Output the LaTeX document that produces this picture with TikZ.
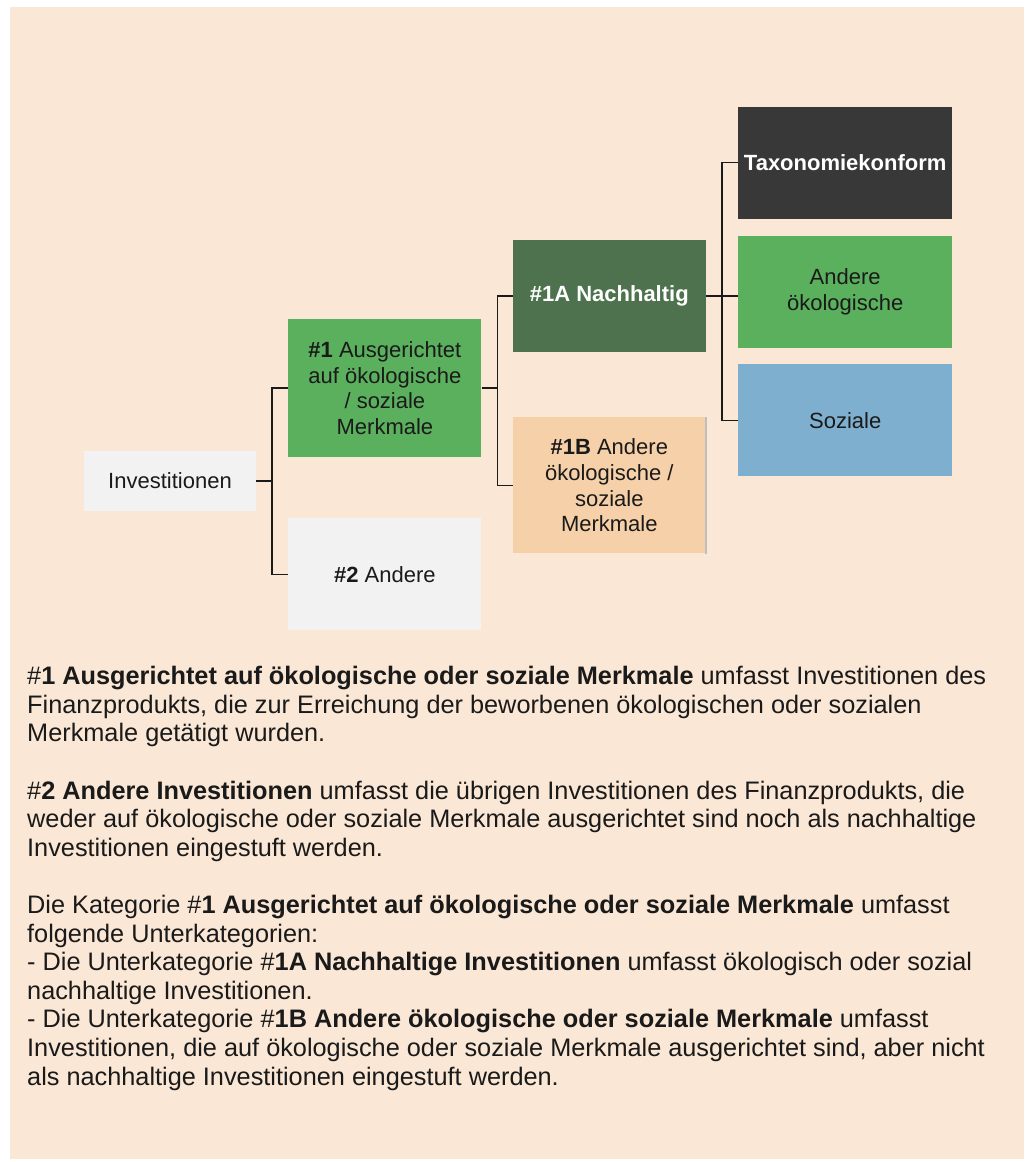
\documentclass[tikz,border=0pt]{standalone}
\usepackage{fontspec}
\setmainfont{Liberation Sans}
\usepackage{xcolor}
\usepackage{tikz}
\usetikzlibrary{positioning}

\definecolor{pagebg}{HTML}{FAE7D5}
\definecolor{greybox}{HTML}{F2F2F2}
\definecolor{greenbox}{HTML}{5BB05E}
\definecolor{darkgreen}{HTML}{4D724D}
\definecolor{darkbox}{HTML}{383838}
\definecolor{bluebox}{HTML}{7FAFCE}
\definecolor{peachbox}{HTML}{F6D0A9}
\definecolor{inkcol}{HTML}{1A1A1A}

\begin{document}
\begin{tikzpicture}[
    x=1pt, y=1pt,
    box/.style={rectangle, minimum width=193pt, minimum height=112pt, inner sep=4pt, align=center, text=inkcol, font=\fontsize{22}{25.7}\selectfont},
    link/.style={line width=1.7pt, draw=inkcol}
]

\useasboundingbox (0,0) rectangle (1026,-1162);
\fill[pagebg] (10,-7) rectangle (1024,-1159);

% Nodes
\node (inv) [box, fill=greybox, minimum width=172pt, minimum height=60pt] at (170,-481) {Investitionen};

\node (aligned) [box, fill=greenbox, minimum height=138pt, right=32pt of inv, yshift=93pt] {\textbf{\#1} Ausgerichtet\\auf ökologische\\/ soziale\\Merkmale};
\node (other) [box, fill=greybox, below=61pt of aligned] {\textbf{\#2} Andere};

\node (sust) [box, fill=darkgreen, text=white, right=31pt of aligned, yshift=92pt] {\textbf{\#1A Nachhaltig}};
\node (otherchar) [box, fill=peachbox, minimum height=136pt, below=65pt of sust] {\textbf{\#1B} Andere\\ökologische /\\soziale\\Merkmale};

\node (otheco) [box, fill=greenbox, minimum width=214pt, right=32pt of sust, yshift=4pt] {Andere\\ökologische};
\node (taxo) [box, fill=darkbox, text=white, minimum width=214pt, above=17pt of otheco] {\textbf{Taxonomiekonform}};
\node (social) [box, fill=bluebox, minimum width=214pt, below=16pt of otheco] {Soziale};

% right edge of the 1B box
\draw [line width=1.5pt, black!25] (otherchar.north east) -- (otherchar.south east);

% Tree lines
\draw [link] (inv.east) -- ++(16,0) |- (aligned.west);
\draw [link] (inv.east) -- ++(16,0) |- (other.west);
\draw [link] (aligned.east) -- ++(16,0) |- (sust.west);
\draw [link] (aligned.east) -- ++(16,0) |- (otherchar.west);
\draw [link] (sust.east) -- (sust.east -| otheco.west);
\draw [link] (sust.east) -- ++(16,0) |- (taxo.west);
\draw [link] (sust.east) -- ++(16,0) |- (social.west);

% Explanation text
\node (notes) [anchor=base west, align=left, inner sep=0pt, text=inkcol, font=\fontsize{25.3}{28.6}\selectfont] at (27,-1085) {%
\#\textbf{1 Ausgerichtet auf ökologische oder soziale Merkmale} umfasst Investitionen des\\
Finanzprodukts, die zur Erreichung der beworbenen ökologischen oder sozialen\\
Merkmale getätigt wurden.\\[28.6pt]
\#\textbf{2 Andere Investitionen} umfasst die übrigen Investitionen des Finanzprodukts, die\\
weder auf ökologische oder soziale Merkmale ausgerichtet sind noch als nachhaltige\\
Investitionen eingestuft werden.\\[28.6pt]
Die Kategorie \#\textbf{1 Ausgerichtet auf ökologische oder soziale Merkmale} umfasst\\
folgende Unterkategorien:\\
- Die Unterkategorie \#\textbf{1A Nachhaltige Investitionen} umfasst ökologisch oder sozial\\
nachhaltige Investitionen.\\
- Die Unterkategorie \#\textbf{1B Andere ökologische oder soziale Merkmale} umfasst\\
Investitionen, die auf ökologische oder soziale Merkmale ausgerichtet sind, aber nicht\\
als nachhaltige Investitionen eingestuft werden.};

\end{tikzpicture}
\end{document}
